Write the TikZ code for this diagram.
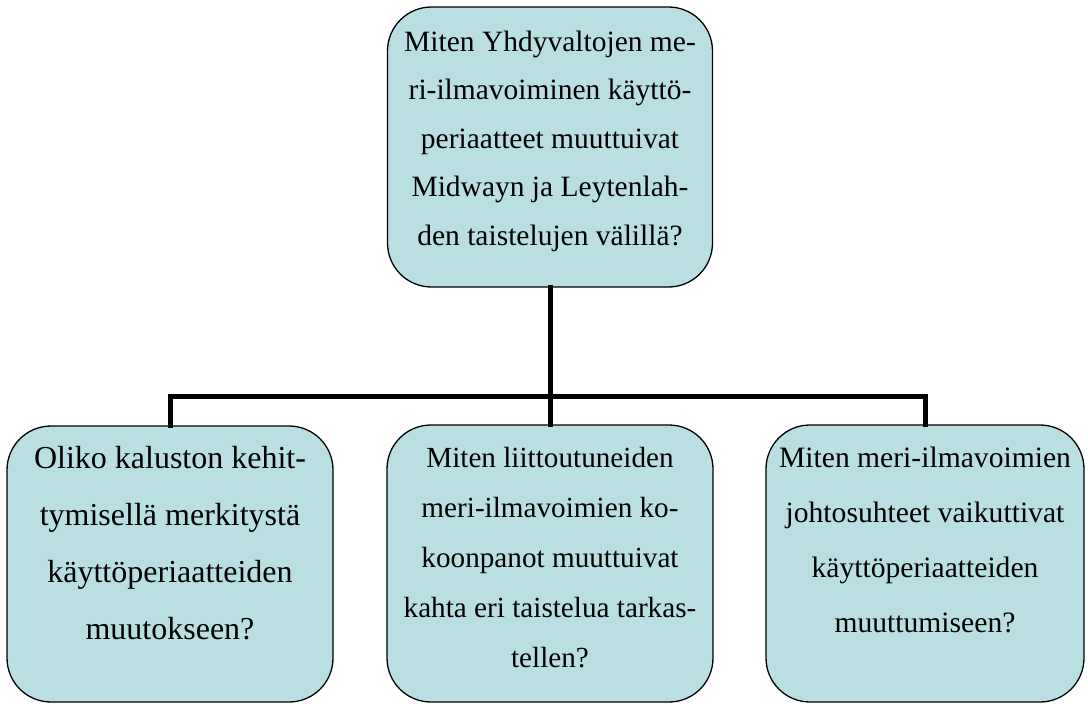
\documentclass[tikz,border=0pt]{standalone}
\usepackage{fontspec}
\setmainfont{Liberation Serif}
\definecolor{qfill}{RGB}{185,223,227}
\tikzset{
  qbox/.style={draw=black,line width=1.3pt,fill=qfill,rounded corners=44pt,inner sep=0pt},
  qtext/.style={anchor=north,inner sep=0pt,align=center},
  bar/.style={line width=5pt}
}
\begin{document}
\begin{tikzpicture}[line cap=rect,line join=miter,x=1pt,y=1pt]
		\useasboundingbox (0,0) rectangle (1088,-704);
		% boxes
		\node[qbox,minimum width=325,minimum height=280] (top) at (550,-147) {};
		\node[qbox,minimum width=326,minimum height=276] (left) at (170,-564) {};
		\node[qbox,minimum width=326,minimum height=277] (mid) at (550,-563.5) {};
		\node[qbox,minimum width=318,minimum height=277] (right) at (925,-563.5) {};
		% connectors
		\coordinate (fork) at (550,-396);
		\draw[bar] (top.south) -- (fork);
		\draw[bar] (left.north) -- (left.north |- fork) -- (right.north |- fork) -- (right.north);
		\draw[bar] (fork) -- (mid.north);
		% texts
		\node[qtext,font=\fontsize{29.5}{48.5}\selectfont] (toptxt) at ([yshift=-24]top.north)
			{Miten Yhdyvaltojen me-\\ri-ilmavoiminen käyttö-\\periaatteet muuttuivat\\Midwayn ja Leytenlah-\\den taistelujen välillä?};
		\node[qtext,font=\fontsize{32}{57}\selectfont] (lefttxt) at ([yshift=-21]left.north)
			{Oliko kaluston kehit-\\tymisellä merkitystä\\käyttöperiaatteiden\\muutokseen?};
		\node[qtext,font=\fontsize{29.2}{50}\selectfont] (midtxt) at ([yshift=-23]mid.north)
			{Miten liittoutuneiden\\meri-ilmavoimien ko-\\koonpanot muuttuivat\\kahta eri taistelua tarkas-\\tellen?};
		\node[qtext,font=\fontsize{29.6}{55}\selectfont] (righttxt) at ([yshift=-22]right.north)
			{Miten meri-ilmavoimien\\johtosuhteet vaikuttivat\\käyttöperiaatteiden\\muuttumiseen?};
		\end{tikzpicture}
\end{document}
